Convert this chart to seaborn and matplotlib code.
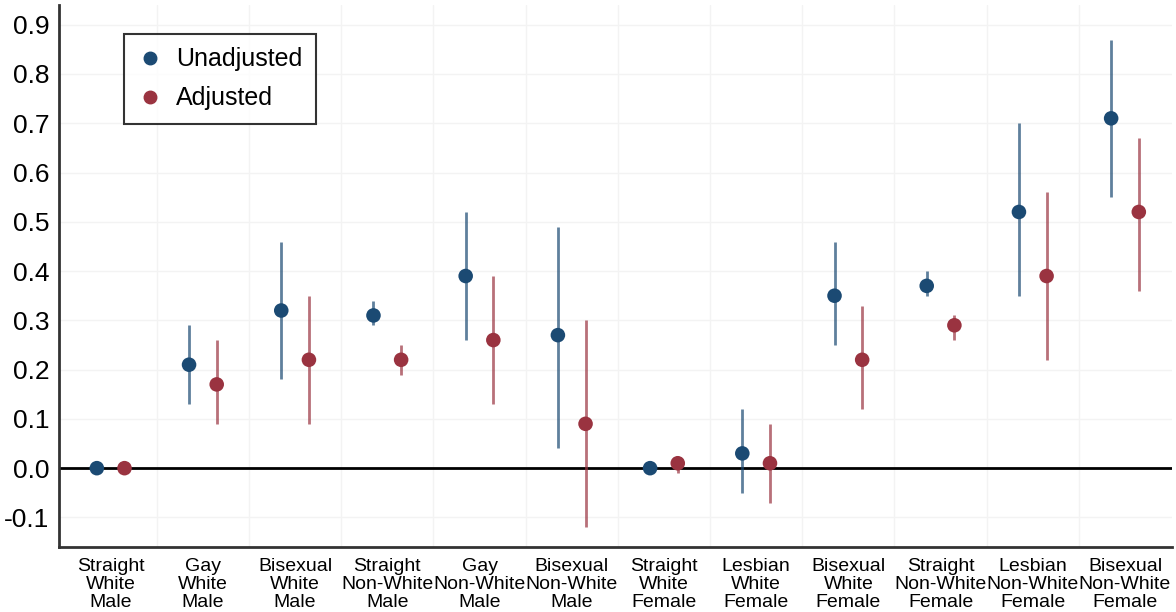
import matplotlib
matplotlib.use("Agg")
import matplotlib.pyplot as plt
import seaborn as sns
import numpy as np
import pandas as pd

groups = ["Straight\nWhite\nMale", "Gay\nWhite\nMale", "Bisexual\nWhite\nMale",
          "Straight\nNon-White\nMale", "Gay\nNon-White\nMale", "Bisexual\nNon-White\nMale",
          "Straight\nWhite\nFemale", "Lesbian\nWhite\nFemale", "Bisexual\nWhite\nFemale",
          "Straight\nNon-White\nFemale", "Lesbian\nNon-White\nFemale", "Bisexual\nNon-White\nFemale"]

unadj = [0.0, 0.21, 0.32, 0.31, 0.39, 0.27, 0.0, 0.03, 0.35, 0.37, 0.52, 0.71]
unadj_lo = [0.0, 0.13, 0.18, 0.29, 0.26, 0.04, 0.0, -0.05, 0.25, 0.35, 0.35, 0.55]
unadj_hi = [0.0, 0.29, 0.46, 0.34, 0.52, 0.49, 0.0, 0.12, 0.46, 0.40, 0.70, 0.87]

adj = [0.0, 0.17, 0.22, 0.22, 0.26, 0.09, 0.01, 0.01, 0.22, 0.29, 0.39, 0.52]
adj_lo = [0.0, 0.09, 0.09, 0.19, 0.13, -0.12, -0.01, -0.07, 0.12, 0.26, 0.22, 0.36]
adj_hi = [0.0, 0.26, 0.35, 0.25, 0.39, 0.30, 0.02, 0.09, 0.33, 0.31, 0.56, 0.67]

sns.set_theme(style="white")
plt.rcParams["font.family"] = ["Liberation Sans", "DejaVu Sans"]
plt.rcParams["text.color"] = "black"
plt.rcParams["xtick.color"] = "black"
plt.rcParams["ytick.color"] = "black"

blue = "#1b4a73"
red = "#9a3340"

idx = np.arange(len(groups))
df = pd.concat([
    pd.DataFrame({"x": idx - 0.15, "est": unadj, "lo": unadj_lo, "hi": unadj_hi, "model": "Unadjusted"}),
    pd.DataFrame({"x": idx + 0.15, "est": adj, "lo": adj_lo, "hi": adj_hi, "model": "Adjusted"}),
])

fig = plt.figure(figsize=(11.76, 6.12), dpi=100)
ax = fig.add_axes([0.0502, 0.1062, 0.9464, 0.8856])

# light grid
ticks = np.round(np.arange(-0.1, 0.95, 0.1), 1)
for v in ticks:
    ax.axhline(v, color="#f3f3f3", lw=1, zorder=0)
for g in idx[:-1] + 0.5:
    ax.axvline(g, color="#f3f3f3", lw=1, zorder=0)
ax.axhline(0, color="black", lw=2, zorder=1)

palette = {"Unadjusted": blue, "Adjusted": red}
for name, sub in df.groupby("model"):
    ax.vlines(sub["x"], sub["lo"], sub["hi"], color=palette[name], alpha=0.7, lw=2, zorder=2)

sns.scatterplot(data=df, x="x", y="est", hue="model", palette=palette,
                s=110, edgecolor="none", ax=ax, zorder=3, legend=False)

handles = [plt.Line2D([], [], ls="", marker="o", ms=9, color=blue, label="Unadjusted"),
           plt.Line2D([], [], ls="", marker="o", ms=9, color=red, label="Adjusted")]
leg = ax.legend(handles=handles, loc="upper left", bbox_to_anchor=(0.058, 0.947),
                borderaxespad=0, fontsize=18, frameon=True, fancybox=False,
                edgecolor="black", handletextpad=0.55, borderpad=0.55,
                labelspacing=0.6, handlelength=1.0)
leg.get_frame().set_linewidth(1.5)

ax.set_xlim(-0.56, 11.51)
ax.set_ylim(-0.16, 0.94)
ax.set_xticks(idx)
ax.set_xticklabels(groups, fontsize=14, linespacing=1.08)
ax.set_yticks(ticks)
ax.set_yticklabels([f"{v:.1f}" for v in ticks], fontsize=19)
ax.tick_params(axis="both", length=0, pad=7)
ax.tick_params(axis="x", pad=8)
ax.set_xlabel("")
ax.set_ylabel("")

for s in ["top", "right"]:
    ax.spines[s].set_visible(False)
for s in ["left", "bottom"]:
    ax.spines[s].set_color("#333333")
    ax.spines[s].set_linewidth(2)

fig.savefig("out.png", dpi=100, facecolor="white")
